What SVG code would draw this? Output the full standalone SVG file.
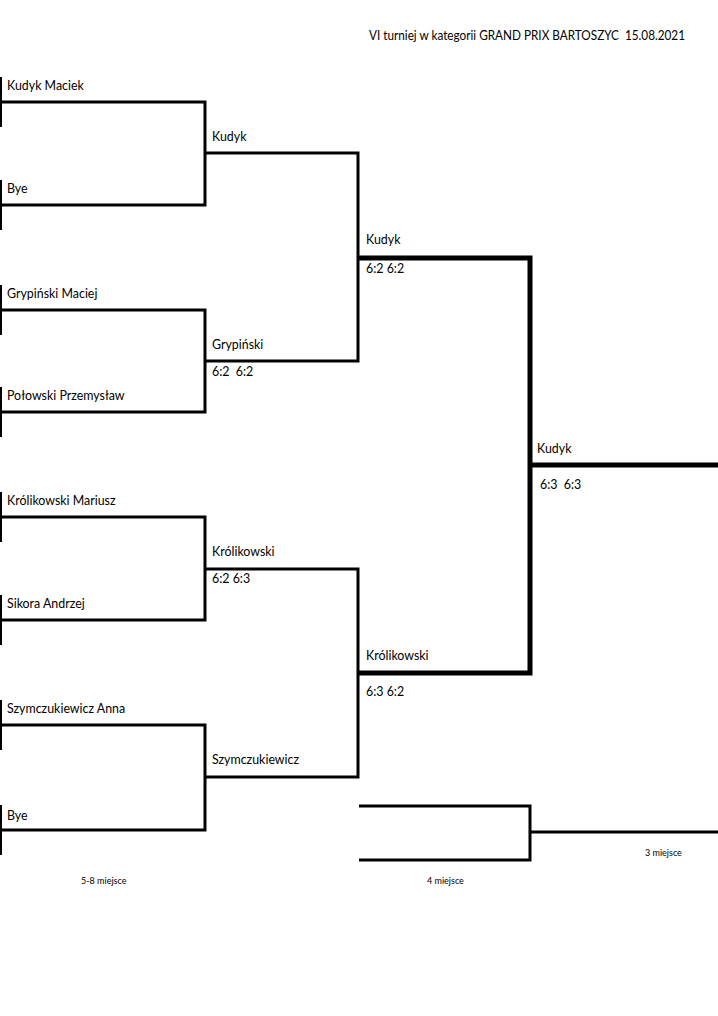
<svg xmlns="http://www.w3.org/2000/svg" width="718" height="1016" viewBox="0 0 718 1016">
<style>
text{font-family:Lato,"Liberation Sans",sans-serif;font-size:12.4px;fill:#000;white-space:pre}
.s{font-size:9px}
.t{stroke:#000;stroke-width:2;fill:none}
.m{stroke:#000;stroke-width:3;fill:none}
.k{stroke:#000;stroke-width:5;fill:none}
</style>
<rect width="718" height="1016" fill="#fff"/>
<text x="369" y="40" textLength="316" lengthAdjust="spacingAndGlyphs" xml:space="preserve">VI turniej w kategorii GRAND PRIX BARTOSZYC  15.08.2021</text>
<g id="connectors">
<path class="t" d="M1,77V127M1,180V230M1,285V335M1,387V437M1,492V542M1,595V645M1,700V750M1,805V855"/>
<path class="m" d="M0,102H205V205H0M0,310H205V412H0M0,517H205V620H0M0,725H205V830H0"/>
<path class="m" d="M205,153H358V361H205M205,569H358V777H205"/>
<path class="k" d="M358,258H530V673H358M530,465H718"/>
<path class="m" d="M359,806H530V860H359M530,832H718"/>
</g>
<g id="p1"><text x="7" y="90">Kudyk Maciek</text></g>
<g id="p2"><text x="7" y="193">Bye</text></g>
<g id="p3"><text x="7" y="298">Grypiński Maciej</text></g>
<g id="p4"><text x="7" y="400">Połowski Przemysław</text></g>
<g id="p5"><text x="7" y="505">Królikowski Mariusz</text></g>
<g id="p6"><text x="7" y="608">Sikora Andrzej</text></g>
<g id="p7"><text x="7" y="713">Szymczukiewicz Anna</text></g>
<g id="p8"><text x="7" y="820">Bye</text></g>
<g id="r2a"><text x="212" y="141">Kudyk</text></g>
<g id="r2b"><text x="212" y="349">Grypiński</text><text x="212" y="376" xml:space="preserve">6:2  6:2</text></g>
<g id="r2c"><text x="212" y="556">Królikowski</text><text x="212" y="583">6:2 6:3</text></g>
<g id="r2d"><text x="212" y="764">Szymczukiewicz</text></g>
<g id="r3a"><text x="366" y="244">Kudyk</text><text x="366" y="273">6:2 6:2</text></g>
<g id="r3b"><text x="366" y="660">Królikowski</text><text x="366" y="696">6:3 6:2</text></g>
<g id="final"><text x="537" y="453">Kudyk</text><text x="540" y="489" xml:space="preserve">6:3  6:3</text></g>
<g id="labels">
<text class="s" x="81" y="884">5-8 miejsce</text>
<text class="s" x="427" y="884">4 miejsce</text>
<text class="s" x="645" y="856">3 miejsce</text>
</g>
</svg>
